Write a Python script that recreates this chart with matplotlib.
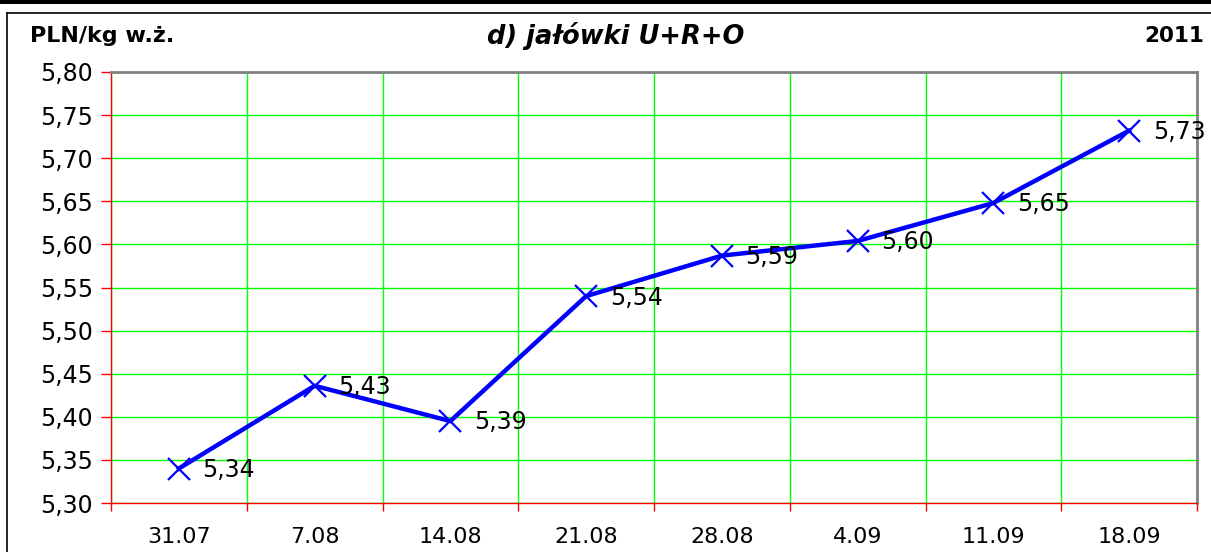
import matplotlib
matplotlib.use('Agg')
import matplotlib.pyplot as plt
from matplotlib.lines import Line2D
from matplotlib.patches import Rectangle

plt.rcParams['font.family'] = ['DejaVu Sans']

# dates (weeks) and prices of heifers U+R+O, PLN/kg live weight
dates = ['31.07', '7.08', '14.08', '21.08', '28.08', '4.09', '11.09', '18.09']
prices = [5.34, 5.436, 5.395, 5.540, 5.587, 5.604, 5.648, 5.732]
price_labels = ['5,34', '5,43', '5,39', '5,54', '5,59', '5,60', '5,65', '5,73']
yticks = [5.30, 5.35, 5.40, 5.45, 5.50, 5.55, 5.60, 5.65, 5.70, 5.75, 5.80]


def main():
    fig = plt.figure(figsize=(12.11, 5.52), dpi=100)

    # frame of the picture: thick bar on top, thin outer border
    fig.add_artist(Rectangle((0, 1 - 3.5 / 552), 1, 3.5 / 552, transform=fig.transFigure,
                             facecolor='black', edgecolor='none'))
    fig.add_artist(Line2D([7 / 1211, 1.0], [1 - 13 / 552, 1 - 13 / 552],
                          transform=fig.transFigure, color='black', lw=1.2))
    fig.add_artist(Line2D([7 / 1211, 7 / 1211], [0, 1 - 13 / 552],
                          transform=fig.transFigure, color='black', lw=1.2))

    ax = fig.add_axes([111 / 1211, 1 - 503 / 552, 1086 / 1211, 431 / 552])
    x = list(range(len(dates)))

    ax.plot(x, prices, color='#0000FF', lw=3.2, marker='x', ms=15.5, mew=1.6, zorder=5,
            clip_on=False)
    for xi, p, lab in zip(x, prices, price_labels):
        ax.annotate(lab, (xi, p), xytext=(17, -1), textcoords='offset points',
                    ha='left', va='center', fontsize=17, color='black', zorder=6)

    ax.set_xlim(-0.5, len(dates) - 0.5)
    ax.set_ylim(5.30, 5.80)
    ax.set_yticks(yticks)
    ax.set_yticklabels([('%.2f' % v).replace('.', ',') for v in yticks], fontsize=17)
    ax.set_xticks(x)
    ax.set_xticklabels(dates, fontsize=16)
    ax.set_xticks([i + 0.5 for i in range(-1, len(dates))], minor=True)

    ax.tick_params(axis='x', which='major', length=0, pad=17)
    ax.tick_params(axis='x', which='minor', length=6, color='red', width=1)
    ax.tick_params(axis='y', length=7, color='red', width=1, pad=6)

    ax.grid(True, axis='y', which='major', color='#00FF00', lw=1)
    ax.grid(True, axis='x', which='minor', color='#00FF00', lw=1)
    ax.set_axisbelow(True)

    for side in ['left', 'bottom']:
        ax.spines[side].set_color('red')
        ax.spines[side].set_linewidth(1)
    for side in ['top', 'right']:
        ax.spines[side].set_color('#808080')
        ax.spines[side].set_linewidth(2)

    fig.text(30 / 1211, 1 - 36 / 552, 'PLN/kg w.\u017c.', fontsize=16, fontweight='bold',
             ha='left', va='center')
    fig.text(616 / 1211, 1 - 36 / 552, 'd) ja\u0142\u00f3wki U+R+O', fontsize=18.5,
             fontweight='bold', style='italic', ha='center', va='center')
    fig.text(1204 / 1211, 1 - 36 / 552, '2011', fontsize=15.5, fontweight='bold',
             ha='right', va='center')

    fig.savefig('out.png', dpi=100)


if __name__ == "__main__":
    main()
